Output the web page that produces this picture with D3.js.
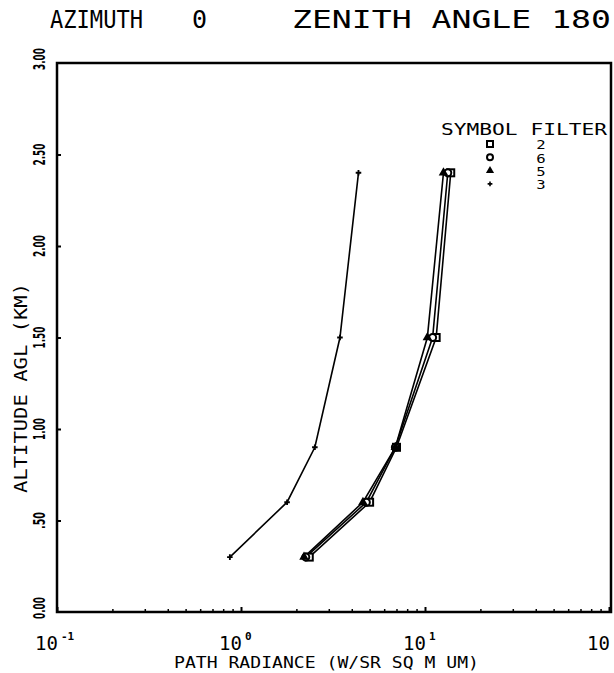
<!DOCTYPE html>
<html>
<head>
<meta charset="utf-8">
<script src="https://cdn.jsdelivr.net/npm/d3@7"></script>
<style>
  html, body { margin: 0; padding: 0; background: #fff; }
  svg { display: block; }
  text { font-family: "DejaVu Sans", sans-serif; fill: #000; }
  .mono { font-family: "DejaVu Sans Mono", monospace; }
</style>
</head>
<body>
<svg id="chart" width="614" height="673"></svg>
<script>
// ---- data ----
const altitudes = [0.3, 0.6, 0.9, 1.5, 2.4];
const filters = ["2", "6", "5", "3"];
const symbols = ["square", "circle", "triangle", "plus"];
const filter2 = [2.35, 5.0, 7.0, 11.5, 13.8];
const filter6 = [2.25, 4.8, 6.9, 11.0, 13.3];
const filter5 = [2.2, 4.6, 6.9, 10.3, 12.6];
const filter3 = [0.87, 1.78, 2.52, 3.45, 4.35];
const seriesValues = [filter2, filter6, filter5, filter3];
const yTickValues = [0, 0.5, 1.0, 1.5, 2.0, 2.5, 3.0];
const yTickLabels = ["0.00", ".50", "1.00", "1.50", "2.00", "2.50", "3.00"];
const xTickValues = [0.1, 1, 10, 100];
const xTickExponents = ["-1", "0", "1", ""];
const titleLeft = "AZIMUTH";
const titleMid = "0";
const titleRight = "ZENITH ANGLE 180";
const xTitle = "PATH RADIANCE (W/SR SQ M UM)";
const yTitle = "ALTITUDE AGL (KM)";
const legendTitle = "SYMBOL FILTER";

// ---- layout ----
const svg = d3.select("#chart");
const L = 57, R = 609, T = 63, B = 612;
const x = d3.scaleLog().domain([0.1, 100]).range([L, R]);
const y = d3.scaleLinear().domain([0, 3]).range([B, T]);

// frame
svg.append("rect").attr("x", L).attr("y", T).attr("width", R - L + 2).attr("height", B - T)
  .attr("fill", "none").attr("stroke", "#000").attr("stroke-width", 2.5);

// y axis ticks (inward)
const yAxis = d3.axisRight(y).tickValues(yTickValues.slice(1, -1)).tickSize(4).tickFormat("");
svg.append("g").attr("transform", `translate(${L},0)`).call(yAxis)
  .call(g => g.select(".domain").remove())
  .selectAll("line").attr("stroke-width", 2);

// y tick labels (rotated)
svg.append("g").selectAll("text").data(yTickValues).join("text")
  .attr("transform", (d) => `translate(45,${y(d) - (d === 3 || d === 0 ? 4 : 0)}) rotate(-90)`)
  .attr("text-anchor", "middle")
  .attr("font-size", 15).attr("font-weight", "bold")
  .attr("textLength", (d, i) => yTickLabels[i].length === 3 ? 17 : 22)
  .attr("lengthAdjust", "spacingAndGlyphs")
  .text((d, i) => yTickLabels[i]);

// x axis minor ticks (inward)
const minor = [];
[0.1, 1, 10].forEach(dec => { for (let k = 2; k <= 9; k++) minor.push(dec * k); });
const xAxisMinor = d3.axisTop(x).tickValues(minor).tickSize(3).tickFormat("");
svg.append("g").attr("transform", `translate(0,${B})`).call(xAxisMinor)
  .call(g => g.select(".domain").remove())
  .selectAll("line").attr("stroke-width", 1.5);
const xAxisMajor = d3.axisTop(x).tickValues(xTickValues).tickSize(5).tickFormat("");
svg.append("g").attr("transform", `translate(0,${B})`).call(xAxisMajor)
  .call(g => g.select(".domain").remove())
  .selectAll("line").attr("stroke-width", 2);

// x tick labels
const xl = svg.append("g").selectAll("g").data(xTickValues).join("g")
  .attr("transform", d => `translate(${x(d)},650)`);
xl.append("text").attr("class", "mono").attr("text-anchor", "end").attr("x", 1)
  .attr("font-size", 19).text("10");
xl.append("text").attr("class", "mono").attr("x", 4).attr("y", -10).attr("font-size", 11)
  .attr("font-weight", "bold").text((d, i) => xTickExponents[i]);

// titles
svg.append("text").attr("class", "mono").attr("x", 50).attr("y", 28).attr("font-size", 25)
  .attr("textLength", 93).attr("lengthAdjust", "spacingAndGlyphs").text(titleLeft);
svg.append("text").attr("class", "mono").attr("x", 192).attr("y", 28).attr("font-size", 25)
  .text(titleMid);
svg.append("text").attr("class", "mono").attr("x", 292).attr("y", 28).attr("font-size", 25)
  .attr("textLength", 319).attr("lengthAdjust", "spacingAndGlyphs").text(titleRight);

svg.append("text").attr("class", "mono").attr("x", 174).attr("y", 668).attr("font-size", 16)
  .attr("textLength", 305).attr("lengthAdjust", "spacingAndGlyphs").text(xTitle);

svg.append("text").attr("class", "mono").attr("transform", "translate(27,493) rotate(-90)")
  .attr("font-size", 17)
  .attr("textLength", 210).attr("lengthAdjust", "spacingAndGlyphs").text(yTitle);

// ---- symbols ----
function drawSymbol(g, type, size) {
  const s = size;
  if (type === "square") {
    g.append("rect").attr("x", -s / 2).attr("y", -s / 2).attr("width", s).attr("height", s)
      .attr("fill", "#fff").attr("stroke", "#000").attr("stroke-width", 2);
  } else if (type === "circle") {
    g.append("circle").attr("r", s / 2).attr("fill", "#fff").attr("stroke", "#000").attr("stroke-width", 2);
  } else if (type === "triangle") {
    g.append("path").attr("d", d3.symbol(d3.symbolTriangle, s * s * 0.8)()).attr("fill", "#000");
  } else {
    g.append("path").attr("d", d3.symbol(d3.symbolCross, s * s * 0.35)()).attr("fill", "#000");
  }
}

// series
const line = d3.line().x(d => x(d[0])).y(d => y(d[1]));
seriesValues.forEach((vals, si) => {
  const pts = vals.map((v, i) => [v, altitudes[i]]);
  svg.append("path").datum(pts).attr("d", line)
    .attr("fill", "none").attr("stroke", "#000").attr("stroke-width", 1.6);
});
seriesValues.forEach((vals, si) => {
  vals.forEach((v, i) => {
    const g = svg.append("g").attr("transform", `translate(${x(v)},${y(altitudes[i])})`);
    drawSymbol(g, symbols[si], 7);
  });
});

// legend
svg.append("text").attr("class", "mono").attr("x", 441).attr("y", 135).attr("font-size", 15)
  .attr("textLength", 166).attr("lengthAdjust", "spacingAndGlyphs").text(legendTitle);
filters.forEach((f, i) => {
  const yy = 144 + i * 13.3;
  const g = svg.append("g").attr("transform", `translate(490,${yy})`);
  drawSymbol(g, symbols[i], 6);
  svg.append("text").attr("class", "mono").attr("x", 541).attr("y", yy + 5.5)
    .attr("text-anchor", "middle").attr("font-size", 13)
    .attr("transform", `translate(541,${yy}) scale(1.2,1) translate(-541,${-yy})`)
    .text(f);
});
</script>
</body>
</html>
